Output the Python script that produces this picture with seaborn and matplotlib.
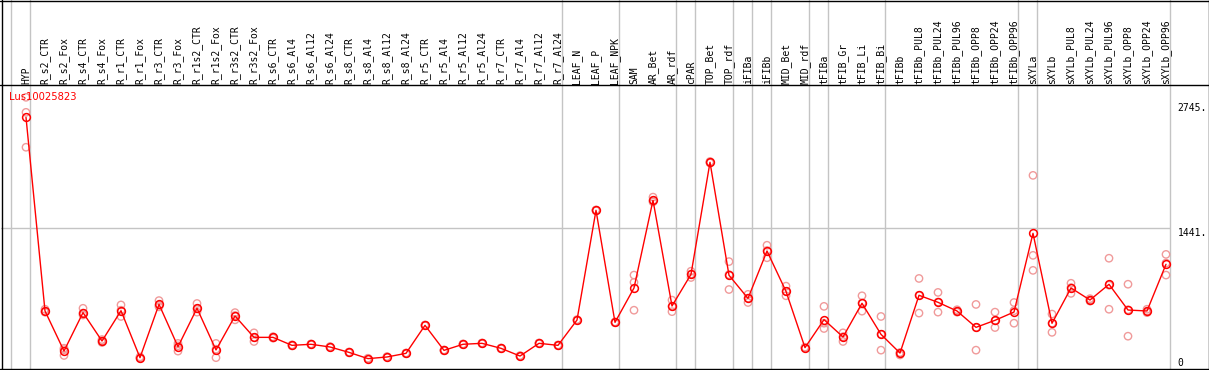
import numpy as np
import pandas as pd
import matplotlib
matplotlib.use("Agg")
import matplotlib.pyplot as plt
from matplotlib.lines import Line2D
import seaborn as sns

categories = ["HYP", "R_s2_CTR", "R_s2_Fox", "R_s4_CTR", "R_s4_Fox", "R_r1_CTR", "R_r1_Fox",
              "R_r3_CTR", "R_r3_Fox", "R_r1s2_CTR", "R_r1s2_Fox", "R_r3s2_CTR", "R_r3s2_Fox",
              "R_s6_CTR", "R_s6_Al4", "R_s6_Al12", "R_s6_Al24", "R_s8_CTR", "R_s8_Al4",
              "R_s8_Al12", "R_s8_Al24", "R_r5_CTR", "R_r5_Al4", "R_r5_Al12", "R_r5_Al24",
              "R_r7_CTR", "R_r7_Al4", "R_r7_Al12", "R_r7_Al24", "LEAF_N", "LEAF_P", "LEAF_NPK",
              "SAM", "AR_Bet", "AR_rdf", "cPAR", "TOP_Bet", "TOP_rdf", "iFIBa", "iFIBb",
              "MID_Bet", "MID_rdf", "tFIBa", "tFIB_Gr", "tFIB_Li", "tFIB_Bi", "tFIBb",
              "tFIBb_PUL8", "tFIBb_PUL24", "tFIBb_PUL96", "tFIBb_OPP8", "tFIBb_OPP24",
              "tFIBb_OPP96", "sXYLa", "sXYLb", "sXYLb_PUL8", "sXYLb_PUL24", "sXYLb_PUL96",
              "sXYLb_OPP8", "sXYLb_OPP24", "sXYLb_OPP96"]

means = [2594, 582, 166, 565, 270, 585, 97, 651, 211, 610, 177, 530, 308,
         308, 225, 236, 208, 152, 87, 104, 142, 433, 173, 236, 246, 194, 114, 246, 225,
         488, 1628, 464, 821, 1732, 634, 963, 2127, 953, 713, 1205, 786, 201,
         492, 312, 662, 339, 145, 745, 672, 582, 412, 485, 571,
         1389, 454, 821, 696, 859, 592, 582, 1067]

rep1 = [2802, 600, 195, 610, 285, 645, 105, 690, 245, 660, 245, 565, 355,
        315, 230, 240, 212, 156, 91, 108, 146, 437, 177, 240, 250, 198, 118, 250, 229,
        492, 1632, 468, 955, 1765, 695, 995, 2135, 1095, 755, 1265, 840, 206,
        630, 355, 740, 525, 150, 920, 775, 595, 650, 570, 670,
        1991, 550, 870, 710, 1130, 860, 600, 1170]
rep2 = [2646, 578, 180, 560, 270, 590, 95, 640, 220, 605, 185, 535, 305,
        308, 225, 236, 208, 152, 87, 104, 142, 433, 173, 236, 246, 194, 114, 246, 225,
        488, 1628, 464, 880, 1730, 630, 965, 2127, 960, 715, 1210, 785, 201,
        455, 315, 665, 340, 145, 745, 675, 580, 410, 480, 585,
        1160, 455, 825, 695, 850, 595, 580, 1080]
rep3 = [2283, 570, 120, 540, 255, 525, 90, 625, 165, 570, 97, 490, 265,
        300, 220, 232, 204, 148, 83, 100, 138, 429, 169, 232, 242, 190, 110, 242, 221,
        484, 1624, 460, 590, 1715, 575, 930, 2120, 805, 670, 1135, 740, 196,
        400, 265, 580, 175, 125, 560, 570, 570, 175, 410, 455,
        1004, 360, 765, 685, 600, 320, 565, 955]

group_ends = [-1, 0, 28, 31, 34, 35, 37, 38, 39, 41, 42, 45, 52, 53, 60]
gridline_value = 1441
axis_labels = ["2745.", "1441.", "0"]
axis_label_values = [2745, 1441, 0]
gene_id = "Lus10025823"

W, H = 1209, 370
sns.set_theme(style="white")
plt.rcParams['font.family'] = ['DejaVu Sans Mono']

fig = plt.figure(figsize=(W / 100, H / 100), dpi=100)
fig.patch.set_facecolor("white")

x_left_px, x_right_px = 1, 1170.5
plot_top_px, plot_bot_px = 85, 369
ax = fig.add_axes([x_left_px / W, (H - plot_bot_px) / H,
                   (x_right_px - x_left_px) / W, (plot_bot_px - plot_top_px) / H])
hdr = fig.add_axes([x_left_px / W, (H - plot_top_px) / H,
                    (x_right_px - x_left_px) / W, plot_top_px / H])

idx = np.arange(len(categories))
px_per_cat = 19.0
xmin = (x_left_px - 26) / px_per_cat
xmax = (x_right_px - 26) / px_per_cat
scale = 0.09625
ymin = (367 - plot_bot_px) / scale
ymax = (367 - plot_top_px) / scale

for a in (ax, hdr):
    a.set_xlim(xmin, xmax)
    for s in a.spines.values():
        s.set_visible(False)
    a.set_xticks([])
    a.set_yticks([])
    a.set_facecolor("none")
ax.set_ylim(ymin, ymax)
hdr.set_ylim(plot_top_px, 0)

sep_color = "#c4c4c4"
for g in group_ends:
    for a in (ax, hdr):
        a.axvline(g + 0.23, color=sep_color, lw=1.0, zorder=0, clip_on=False)
ax.axhline(gridline_value, color=sep_color, lw=1.0, zorder=0)

reps = pd.DataFrame({
    "x": np.concatenate([idx, idx, idx]),
    "y": np.concatenate([rep1, rep2, rep3]),
})
sns.scatterplot(data=reps, x="x", y="y", ax=ax, marker="o", s=28,
                facecolors="none", edgecolor="#f09a9a", linewidth=1.0, zorder=2, legend=False)

mdf = pd.DataFrame({"x": idx, "y": means})
sns.lineplot(data=mdf, x="x", y="y", ax=ax, color="#ff0000", lw=1.0, marker="o",
             markersize=5.6, markerfacecolor="none", markeredgecolor="#ff0000",
             markeredgewidth=1.1, zorder=3, sort=False)
ax.set_xlabel("")
ax.set_ylabel("")
ax.set_xlim(xmin, xmax)
ax.set_ylim(ymin, ymax)

for i, c in enumerate(categories):
    hdr.text(i, 83.5, c, rotation=90, ha="center", va="bottom", fontsize=7, color="black")

ax.text(8 / (x_right_px - x_left_px), 1 - 12 / (plot_bot_px - plot_top_px), gene_id,
        transform=ax.transAxes, color="#ff0000", fontsize=7.2, ha="left", va="center",
        family="DejaVu Sans")

for lab, v in zip(axis_labels, axis_label_values):
    yy = v if v > 0 else 97
    ax.text(1 + 7 / (x_right_px - x_left_px), yy, lab, transform=ax.get_yaxis_transform(),
            ha="left", va="top", fontsize=7, color="black", clip_on=False)

def fline(x0, y0, x1, y1, color="black"):
    fig.add_artist(Line2D([x0 / W, x1 / W], [1 - y0 / H, 1 - y1 / H],
                          color=color, lw=1.0, transform=fig.transFigure))

fline(0, 0.5, W, 0.5)
fline(1.5, 0, 1.5, plot_bot_px)
fline(W - 0.5, 0, W - 0.5, plot_bot_px)
fline(0, plot_bot_px, W, plot_bot_px)
fline(0, plot_top_px, W, plot_top_px)

fig.savefig("out.png", dpi=100, facecolor="white")
